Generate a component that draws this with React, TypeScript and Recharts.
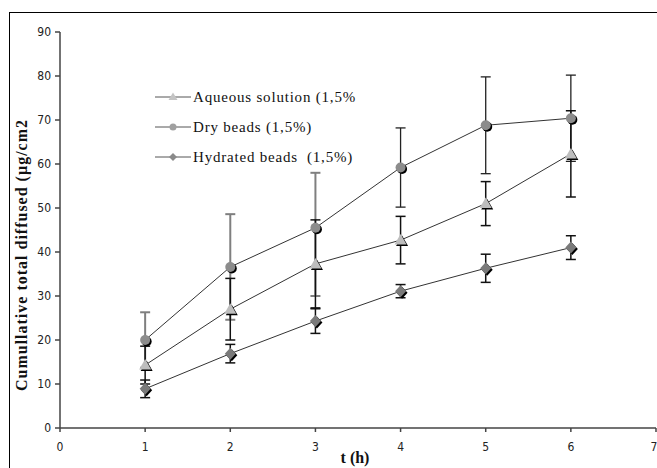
import { LineChart, Line, XAxis, YAxis, ErrorBar } from 'recharts';

const hours = [1, 2, 3, 4, 5, 6];
const aqueous = [14.3, 27, 37.3, 42.7, 51, 62.3];
const aqueousErr = [4.3, 7, 10, 5.4, 5, 9.8];
const dry = [20, 36.6, 45.5, 59.2, 68.8, 70.4];
const dryErr: (number | number[])[] = [6.3, 12, [15.5, 12.5], 9, 11, 9.8];
const hydrated = [8.9, 16.9, 24.3, 31.1, 36.3, 41];
const hydratedErr = [2, 2.1, 2.8, 1.5, 3.2, 2.7];
const xTicks = [0, 1, 2, 3, 4, 5, 6, 7];
const yTicks = [0, 10, 20, 30, 40, 50, 60, 70, 80, 90];

const seriesNames = ['Aqueous solution (1,5%', 'Dry beads (1,5%)', 'Hydrated beads  (1,5%)'];

// in the original the dry-bead bars are grey for the first three points, dark after
const data = hours.map((t, i) => ({
  t,
  aqueous: aqueous[i],
  aqueousErr: aqueousErr[i],
  dry: dry[i],
  dryErrGrey: i < 3 ? dryErr[i] : null,
  dryErrDark: i >= 3 ? dryErr[i] : null,
  hydrated: hydrated[i],
  hydratedErr: hydratedErr[i],
}));

const tickFont = { fontFamily: '"Liberation Sans Narrow", "DejaVu Sans Condensed", sans-serif', fontSize: 12, fill: '#222' };

// marker shapes with the small black drop shadow of the original
function Marker({ kind, cx, cy }: { kind: string; cx: number; cy: number }) {
  const draw = (x: number, y: number, fill: string) => {
    if (kind === 'triangle') {
      return <path d={`M${x},${y - 6} L${x + 6},${y + 4.5} L${x - 6},${y + 4.5} Z`} fill={fill} />;
    }
    if (kind === 'diamond') {
      return <path d={`M${x},${y - 6} L${x + 5.5},${y} L${x},${y + 6} L${x - 5.5},${y} Z`} fill={fill} />;
    }
    return <circle cx={x} cy={y} r={5} fill={fill} />;
  };
  const fill = kind === 'triangle' ? '#bdbdbd' : kind === 'diamond' ? '#7a7a7a' : '#8c8c8c';
  return (
    <g>
      {draw(cx + 1.5, cy + 1.5, '#000')}
      {draw(cx, cy, fill)}
    </g>
  );
}

function dotFor(kind: string) {
  return (props: any) => (
    <g key={`${kind}-${props.index}`}>
      <Marker kind={kind} cx={props.cx} cy={props.cy} />
    </g>
  );
}

function ChartLegend() {
  const kinds = ['triangle', 'circle', 'diamond'];
  return (
    <svg width={260} height={90} style={{ overflow: 'visible' }}>
      {kinds.map((k, i) => {
        const y = 12 + i * 30;
        const legendFill = k === 'triangle' ? '#c4c4c4' : k === 'diamond' ? '#8a8a8a' : '#a0a0a0';
        return (
          <g key={k}>
            <line x1={0} x2={36} y1={y} y2={y} stroke="#555" strokeWidth={1} />
            {k === 'triangle' && <path d={`M18,${y - 4.5} L22.5,${y + 3} L13.5,${y + 3} Z`} fill={legendFill} />}
            {k === 'circle' && <circle cx={18} cy={y} r={3.5} fill={legendFill} />}
            {k === 'diamond' && <path d={`M18,${y - 4} L22,${y} L18,${y + 4} L14,${y} Z`} fill={legendFill} />}
            <text
              x={38}
              y={y + 5}
              fontFamily='"Liberation Serif", "DejaVu Serif", serif'
              fontSize={15}
              letterSpacing={0.8}
              fill="#111"
              style={{ whiteSpace: 'pre' }}
            >
              {seriesNames[i]}
            </text>
          </g>
        );
      })}
    </svg>
  );
}

export default function App() {
  return (
    <div style={{ position: 'absolute', left: 0, top: 0, width: 657, height: 468, background: '#fff', overflow: 'hidden' }}>
      {/* frame */}
      <div
        style={{
          position: 'absolute',
          left: 9,
          top: 12,
          width: 700,
          height: 500,
          borderTop: '1.5px solid #000',
          borderLeft: '1.5px solid #000',
        }}
      />
      <LineChart
        width={657}
        height={468}
        data={data}
        margin={{ top: 32, right: 1, left: 0, bottom: 0 }}
        style={{ position: 'absolute', left: 0, top: 0 }}
      >
        <XAxis
          dataKey="t"
          type="number"
          domain={[0, 7]}
          ticks={xTicks}
          height={40}
          tick={tickFont}
          tickSize={4}
          tickMargin={10}
          stroke="#444"
          strokeWidth={1.5}
          allowDataOverflow
        />
        <YAxis
          type="number"
          domain={[0, 90]}
          ticks={yTicks}
          width={60}
          tick={tickFont}
          tickSize={5}
          tickMargin={4}
          stroke="#444"
          strokeWidth={1.5}
        />
        <Line
          dataKey="dry"
          stroke="#333"
          strokeWidth={1}
          dot={dotFor('circle')}
          activeDot={false}
          isAnimationActive={false}
        >
          <ErrorBar dataKey="dryErrGrey" stroke="#7f7f7f" strokeWidth={2} width={5} />
          <ErrorBar dataKey="dryErrDark" stroke="#222" strokeWidth={1.3} width={5} />
        </Line>
        <Line
          dataKey="aqueous"
          stroke="#333"
          strokeWidth={1}
          dot={dotFor('triangle')}
          activeDot={false}
          isAnimationActive={false}
        >
          <ErrorBar dataKey="aqueousErr" stroke="#111" strokeWidth={1.5} width={5} />
        </Line>
        <Line
          dataKey="hydrated"
          stroke="#333"
          strokeWidth={1}
          dot={dotFor('diamond')}
          activeDot={false}
          isAnimationActive={false}
        >
          <ErrorBar dataKey="hydratedErr" stroke="#111" strokeWidth={1.5} width={5} />
        </Line>
      </LineChart>
      <div style={{ position: 'absolute', left: 155, top: 85 }}>
        <ChartLegend />
      </div>
      <div
        style={{
          position: 'absolute',
          left: 22,
          top: 255,
          transform: 'translate(-50%, -50%) rotate(-90deg)',
          whiteSpace: 'nowrap',
          fontFamily: '"Liberation Serif", "DejaVu Serif", serif',
          fontWeight: 'bold',
          fontSize: 16,
          letterSpacing: 1,
          color: '#111',
        }}
      >
        Cumullative total diffused (µg/cm2
      </div>
      <div
        style={{
          position: 'absolute',
          left: 355,
          top: 458,
          transform: 'translate(-50%, -50%)',
          whiteSpace: 'nowrap',
          fontFamily: '"Liberation Serif", "DejaVu Serif", serif',
          fontWeight: 'bold',
          fontSize: 16,
          color: '#111',
        }}
      >
        t (h)
      </div>
    </div>
  );
}
